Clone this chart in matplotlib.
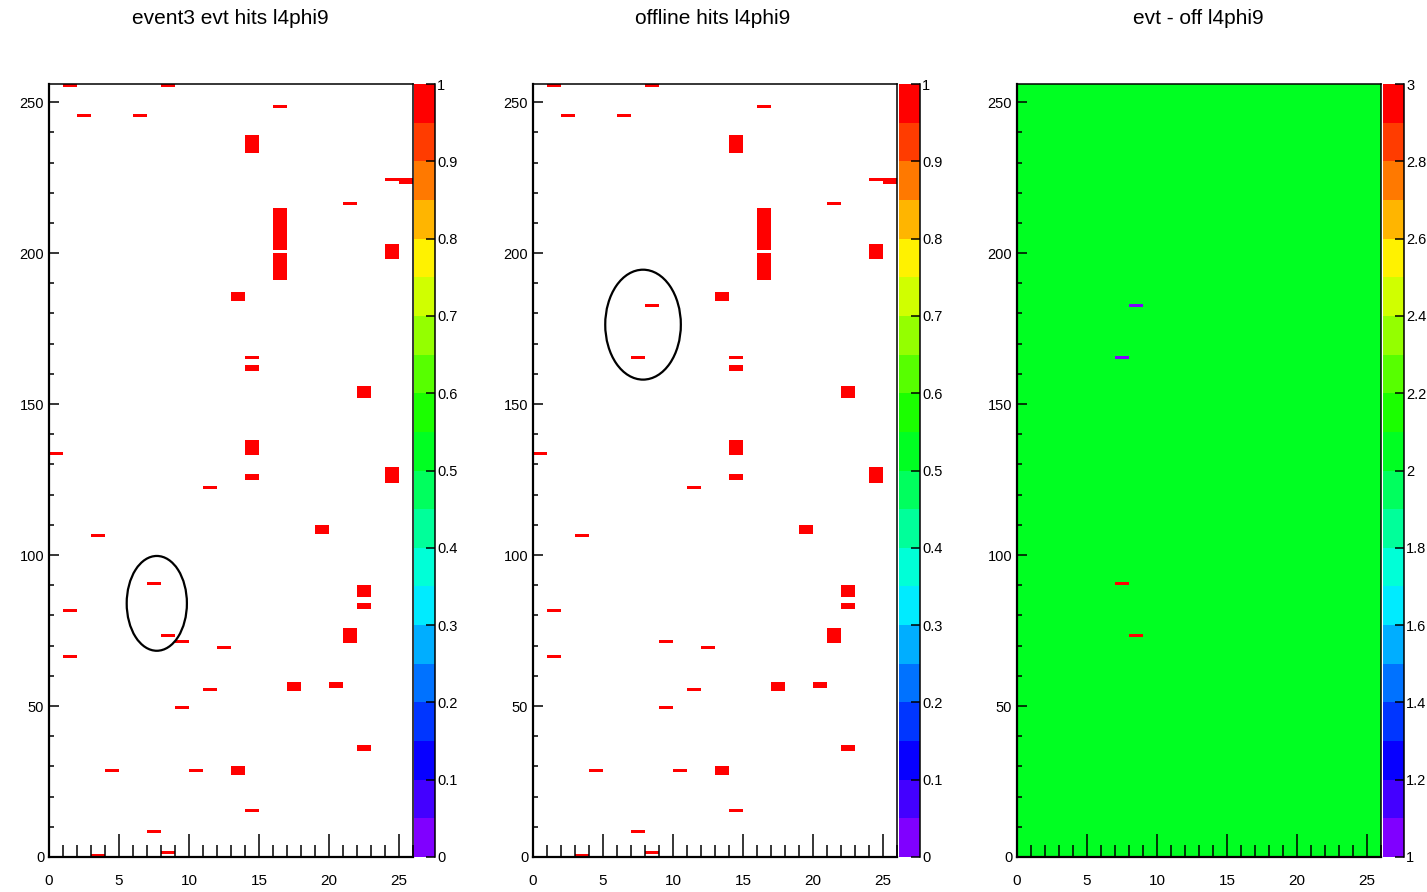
import numpy as np
import matplotlib
matplotlib.use("Agg")
import matplotlib.pyplot as plt
from matplotlib.colors import ListedColormap, BoundaryNorm, hsv_to_rgb
from matplotlib.patches import Ellipse

plt.rcParams['font.family'] = ['Liberation Sans', 'DejaVu Sans']

# histogram binning
nx, ny = 26, 256

# hits seen in both event and offline: column, first row, last row
hit_x   = [1, 8, 2, 6, 14, 16, 24, 25, 21, 16, 16, 24, 13, 14, 14, 22, 0, 14, 24, 14, 11,
           3, 19, 22, 22, 1, 9, 21, 12, 1, 11, 17, 20, 9, 22, 4, 10, 13, 14, 7, 8, 3]
hit_ylo = [255, 255, 245, 245, 233, 248, 224, 223, 216, 201, 191, 198, 184, 165, 161, 152, 133, 133, 124, 125, 122,
           106, 107, 86, 82, 81, 71, 71, 69, 66, 55, 55, 56, 49, 35, 28, 28, 27, 15, 8, 1, 0]
hit_yhi = [255, 255, 245, 245, 238, 248, 224, 224, 216, 214, 199, 202, 186, 165, 162, 155, 133, 137, 128, 126, 122,
           106, 109, 89, 83, 81, 71, 75, 69, 66, 55, 57, 57, 49, 36, 28, 28, 29, 15, 8, 1, 0]

# hits only in one of the two
evt_only_x = [7, 8]
evt_only_y = [90, 73]
off_only_x = [8, 7]
off_only_y = [182, 165]

titles = ["event3 evt hits l4phi9", "offline hits l4phi9", "evt - off l4phi9"]
title_x = [230, 713, 1198]

evt = np.zeros((ny, nx))
off = np.zeros((ny, nx))
for x, lo, hi in zip(hit_x, hit_ylo, hit_yhi):
    evt[lo:hi + 1, x] = 1
    off[lo:hi + 1, x] = 1
for x, y in zip(evt_only_x, evt_only_y):
    evt[y, x] = 1
for x, y in zip(off_only_x, off_only_y):
    off[y, x] = 1
diff = evt - off + 2

# ROOT-like 20 step rainbow palette
ncol = 20
hues = np.linspace(270, 0, ncol) / 360.0
colors = hsv_to_rgb(np.column_stack([hues, np.ones(ncol), np.ones(ncol)]))
cmap = ListedColormap(colors)

W, H = 1427, 892
fig = plt.figure(figsize=(W / 100, H / 100), dpi=100)

ax_left = [49, 533, 1017]
cb_left = [414, 899, 1383]
ax_w, ax_top, ax_bot = 364, 84, 857
cb_w = 21

panels = [
    (np.ma.masked_equal(evt, 0), 0, 1, [0, 0.1, 0.2, 0.3, 0.4, 0.5, 0.6, 0.7, 0.8, 0.9, 1]),
    (np.ma.masked_equal(off, 0), 0, 1, [0, 0.1, 0.2, 0.3, 0.4, 0.5, 0.6, 0.7, 0.8, 0.9, 1]),
    (diff, 1, 3, [1, 1.2, 1.4, 1.6, 1.8, 2, 2.2, 2.4, 2.6, 2.8, 3]),
]

# circles marking the differences (x centre, y centre, width, height)
ellipses = [(7.7, 84.0, 4.3, 31.4), (7.86, 176.3, 5.4, 36.4), None]

xe = np.arange(nx + 1)
ye = np.arange(ny + 1)

for i, (data, vmin, vmax, cticks) in enumerate(panels):
    bounds = np.linspace(vmin, vmax, ncol + 1)
    norm = BoundaryNorm(bounds, ncol)
    ax = fig.add_axes([ax_left[i] / W, (H - ax_bot) / H, ax_w / W, (ax_bot - ax_top) / H])
    ax.pcolormesh(xe, ye, data, cmap=cmap, norm=norm)
    ax.set_xlim(0, nx)
    ax.set_ylim(0, ny)
    ax.set_xticks(range(0, 26, 5))
    ax.set_xticks(range(0, 27), minor=True)
    ax.set_yticks(range(0, 251, 50))
    ax.set_yticks(range(0, 256, 10), minor=True)
    ax.tick_params(axis='x', which='major', direction='in', length=16.5, width=1.1, pad=12.5, labelsize=11)
    ax.tick_params(axis='x', which='minor', direction='in', length=8.5, width=1.1)
    ax.tick_params(axis='y', which='major', direction='in', length=7.2, width=1.1, pad=3.5, labelsize=10.5)
    ax.tick_params(axis='y', which='minor', direction='in', length=3.6, width=1.1)
    for s in ax.spines.values():
        s.set_linewidth(1.1)
    ax.spines['left'].set_linewidth(1.6)
    ax.spines['bottom'].set_linewidth(1.6)
    if ellipses[i] is not None:
        ex, ey, ew, eh = ellipses[i]
        ax.add_patch(Ellipse((ex, ey), ew, eh, fill=False, edgecolor='black', lw=1.6))

    cax = fig.add_axes([cb_left[i] / W, (H - ax_bot) / H, cb_w / W, (ax_bot - ax_top) / H])
    cax.pcolormesh([0, 1], bounds, ((bounds[:-1] + bounds[1:]) / 2)[:, None], cmap=cmap, norm=norm)
    cax.set_xlim(0, 1)
    cax.set_ylim(vmin, vmax)
    cax.set_xticks([])
    cax.yaxis.tick_right()
    cax.set_yticks(cticks)
    cax.set_yticklabels([f"{v:g}" for v in cticks])
    cax.tick_params(axis='y', direction='in', length=6.5, width=1.1, pad=1.5, labelsize=10.5)
    for k in ['left', 'top', 'bottom']:
        cax.spines[k].set_visible(False)
    cax.spines['right'].set_linewidth(1.1)

    fig.text(title_x[i] / W, 1 - 18 / H, titles[i], ha='center', va='center', fontsize=15)

fig.savefig("out.png", dpi=100)
